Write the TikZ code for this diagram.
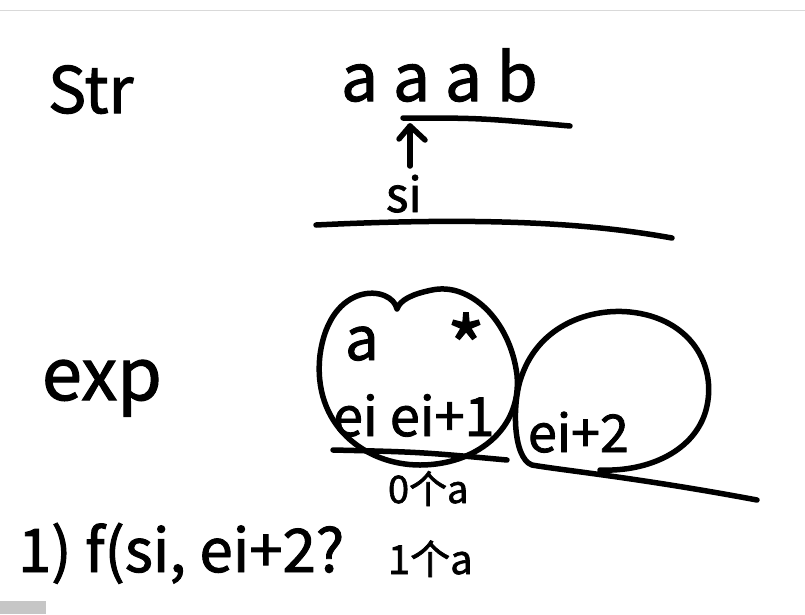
\documentclass[tikz,border=0pt]{standalone}
\usepackage{fontspec}
\setmainfont{Noto Sans CJK SC}[FakeBold=1.6]
\usetikzlibrary{arrows.meta}
\tikzset{
  ink/.style={draw=black, line width=5.5pt, line cap=round, line join=round},
  hand/.style={inner sep=0pt, outer sep=0pt, text=black},
}
\begin{document}
\begin{tikzpicture}[x=1pt,y=-1pt]
\useasboundingbox (0,0) rectangle (805,614);
\fill[white] (0,0) rectangle (805,614);
% top bar line
\draw[gray!30, line width=1pt] (0,10) -- (805,10);
% bottom-left thumbnail
\fill[gray!45] (0,601) rectangle (46,614);

% --- str row ---
\node[hand, anchor=base west, font=\fontsize{64}{64}\selectfont] (str) at (48,113) {Str};
\node[hand, anchor=base west, font=\fontsize{66}{66}\selectfont] (aaab) at (341,101) {a a a b};
\coordinate (u1) at (403,118);
\coordinate (u2) at (570,126);
\draw[ink] (u1) .. controls (480,118) .. (u2);
\node[hand, anchor=base west, font=\fontsize{48}{48}\selectfont] (si) at (386,212) {si};
\coordinate (tail) at (410,166);
\coordinate (tip) at (410,126);
\draw[ink] (tail) -- (tip);
\draw[ink] (399,139) -- (tip) -- (425,140);
\coordinate (l1) at (316,225);
\coordinate (l2) at (672,238);
\draw[ink] (l1) .. controls (500,216) and (600,225) .. (l2);

% --- exp row ---
\node[hand, anchor=base west, font=\fontsize{72}{72}\selectfont] (exp) at (42,400) {exp};

% left blob
\draw[ink] (397,309) .. controls (392,285) and (330,280) .. (320,355)
  .. controls (312,425) and (365,465) .. (420,465)
  .. controls (475,465) and (522,430) .. (517,375)
  .. controls (510,320) and (470,282) .. (432,290)
  .. controls (412,294) and (400,300) .. (397,309);
\node[hand, anchor=base west, font=\fontsize{60}{60}\selectfont] (a1) at (345,360) {a};
\node[hand, anchor=base, font=\fontsize{82}{82}\selectfont] (star) at (466,378) {*};
\node[hand, anchor=base west, font=\fontsize{54}{54}\selectfont] (eiei) at (333,436) {ei ei+1};
\coordinate (b1) at (333,450);
\coordinate (b2) at (507,460);
\draw[ink] (b1) .. controls (420,452) .. (b2);
\node[hand, anchor=base west, font=\fontsize{38}{38}\selectfont] (zero) at (388,503) {0个a};

% right ellipse with tail
\coordinate (t1) at (757,500);
\draw[ink] (t1) .. controls (640,478) and (560,470) .. (532,465)
  .. controls (512,458) and (512,400) .. (522,375)
  .. controls (540,325) and (590,308) .. (630,312)
  .. controls (690,318) and (718,365) .. (706,410)
  .. controls (695,450) and (650,472) .. (600,470);
\node[hand, anchor=base west, font=\fontsize{52}{52}\selectfont] (ei2) at (528,452) {ei+2};

% bottom line
\node[hand, anchor=base west, font=\fontsize{60}{60}\selectfont] (f) at (18,572) {1) f(si, ei+2?};
\node[hand, anchor=base west, font=\fontsize{40}{40}\selectfont] (one) at (388,574) {1个a};
\end{tikzpicture}
\end{document}
